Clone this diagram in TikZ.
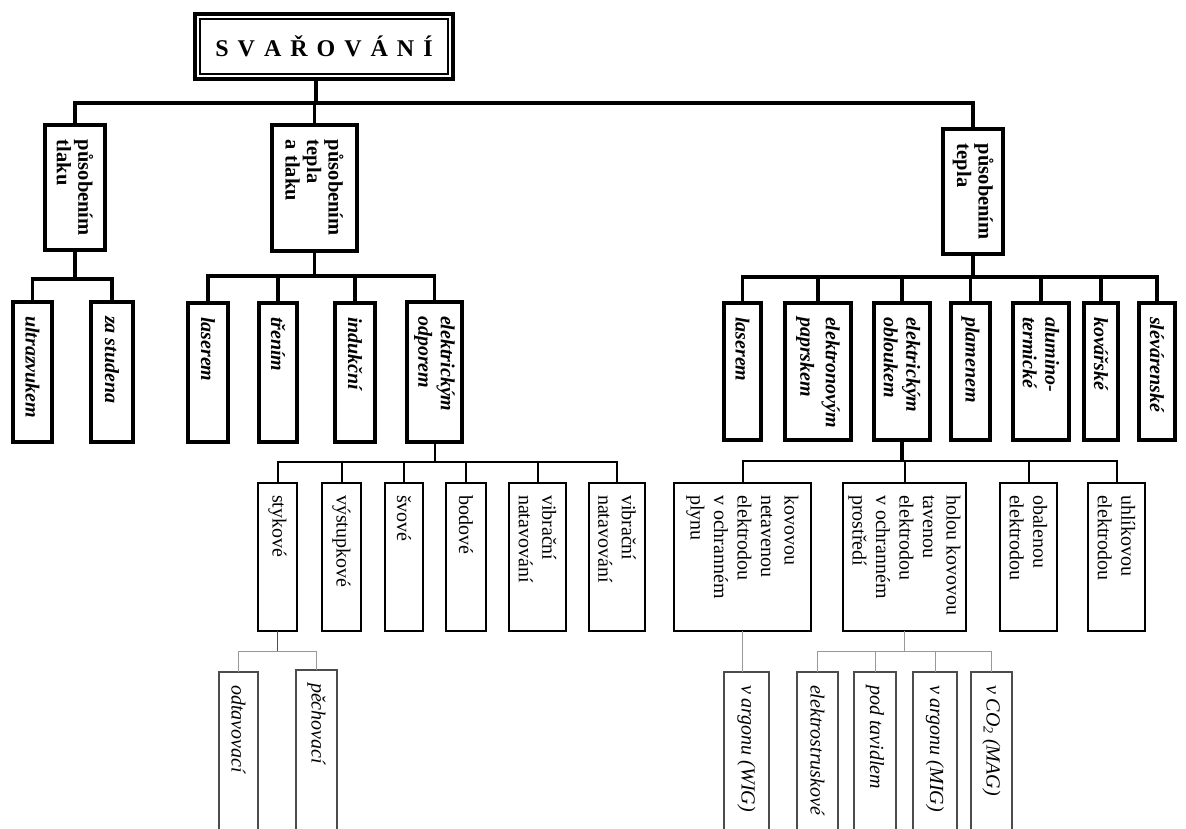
\documentclass[tikz,border=0pt]{standalone}
\usepackage{fontspec}
\setmainfont{Liberation Serif}
\newcommand{\bx}[6]{\node[#1, minimum width={#5-#3}, minimum height={#6-#4}] (#2) at ({(#3+#5)/2},{(#4+#6)/2}) {};}
\newcommand{\tx}[4]{\node[#1] (#2-lbl) at ([yshift=-#3pt]#2.north) {#4};}
\tikzset{
  lv1/.style={draw, line width=3.6pt, inner sep=0pt, outer sep=0pt},
  lv3/.style={draw, line width=2.6pt, inner sep=0pt, outer sep=0pt},
  lv4/.style={draw=none, inner sep=0pt, outer sep=0pt},
  c1/.style={line width=3.6pt},
  c3/.style={line width=2pt},
  c4/.style={line width=1pt, draw=black!40},
  c4box/.style={line width=1.1pt, draw=black!70},
  txt/.style={align=left, rotate=-90, anchor=west, inner sep=0pt, outer sep=0pt},
  t1/.style={txt, font=\fontsize{20.5}{21.5}\selectfont\bfseries},
  t2/.style={txt, font=\fontsize{20}{22.5}\selectfont\bfseries\itshape},
  t2w/.style={txt, font=\fontsize{20}{25.5}\selectfont\bfseries\itshape},
  t3/.style={txt, font=\fontsize{20}{23.5}\selectfont},
  t4/.style={txt, font=\fontsize{20}{23}\selectfont\itshape},
}
\begin{document}
\begin{tikzpicture}[x=1pt,y=-1pt]
\useasboundingbox (0,0) rectangle (1186,829);
% title
\bx{lv1}{ti}{195}{14}{453}{79}
\draw[line width=1.2pt] ([shift={(5pt,-5pt)}]ti.north west) rectangle ([shift={(-5pt,5pt)}]ti.south east);
\node[font=\fontsize{24}{26}\selectfont\bfseries, inner sep=0pt] (ti-lbl) at (ti.center) {S\kern9pt V\kern9pt A\kern9pt Ř\kern9pt O\kern9pt V\kern9pt Á\kern9pt N\kern9pt Í};
% level 1
\bx{lv1}{pt}{45}{125}{105}{250}
\bx{lv1}{ptt}{272}{125}{357}{251}
\bx{lv1}{pte}{943}{129}{1003}{254}
\tx{t1}{pt}{15}{působením\\tlaku}
\tx{t1}{ptt}{15}{působením\\tepla\\a tlaku}
\tx{t1}{pte}{15}{působením\\tepla}
\coordinate (bar0) at (0,103);
\coordinate (tis) at ([xshift=-8pt]ti.south);
\draw[c1] (pt.north) |- (pte.north |- bar0) -- (pte.north);
\draw[c1] (ptt.north) -- (ptt.north |- bar0);
\draw[c1] (tis) -- (tis |- bar0);
% level 2 left
\bx{lv1}{ul}{13}{302}{52}{442}
\bx{lv1}{zs}{91}{302}{133}{442}
\tx{t2}{ul}{14}{ultrazvukem}
\tx{t2}{zs}{14}{za studena}
\coordinate (bar1) at (0,279);
\draw[c1] (pt.south) -- (pt.south |- bar1);
\draw[c1] (ul.north) |- (zs.north |- bar1) -- (zs.north);
% level 2 middle
\bx{lv1}{la}{188}{303}{228}{442}
\bx{lv1}{tr}{259}{303}{297}{442}
\bx{lv1}{in}{335}{303}{375}{442}
\bx{lv1}{od}{407}{302}{462}{442}
\tx{t2}{la}{14}{laserem}
\tx{t2}{tr}{14}{třením}
\tx{t2}{in}{14}{indukční}
\tx{t2}{od}{14}{elektrickým\\odporem}
\coordinate (bar2) at (0,276);
\draw[c1] (ptt.south) -- (ptt.south |- bar2);
\draw[c1] (la.north) |- (od.north |- bar2) -- (od.north);
\foreach \n in {tr,in} \draw[c1] (\n.north) -- (\n.north |- bar2);
% level 2 right
\bx{lv1}{lb}{724}{303}{761}{440}
\bx{lv1}{ep}{785}{303}{851}{440}
\bx{lv1}{eo}{874}{303}{930}{440}
\bx{lv1}{pl}{951}{303}{990}{440}
\bx{lv1}{al}{1013}{303}{1069}{440}
\bx{lv1}{ko}{1084}{303}{1118}{440}
\bx{lv1}{sl}{1139}{303}{1175}{440}
\tx{t2}{lb}{14}{laserem}
\tx{t2w}{ep}{14}{elektronovým\\paprskem}
\tx{t2}{eo}{14}{elektrickým\\obloukem}
\tx{t2}{pl}{14}{plamenem}
\tx{t2}{al}{14}{alumino-\\termické}
\tx{t2}{ko}{14}{kovářské}
\tx{t2}{sl}{14}{slévárenské}
\coordinate (bar3) at (0,277);
\draw[c1] (pte.south) -- (pte.south |- bar3);
\draw[c1] (lb.north) |- (sl.north |- bar3) -- (sl.north);
\foreach \n in {ep,eo,pl,al,ko} \draw[c1] (\n.north) -- (\n.north |- bar3);
% level 3 left
\bx{lv3}{st}{258}{483}{297}{631}
\bx{lv3}{vy}{322}{483}{361}{631}
\bx{lv3}{sv}{385}{483}{423}{631}
\bx{lv3}{bo}{446}{483}{486}{631}
\bx{lv3}{va}{509}{483}{566}{631}
\bx{lv3}{vb}{589}{483}{645}{631}
\tx{t3}{st}{12}{stykové}
\tx{t3}{vy}{12}{výstupkové}
\tx{t3}{sv}{12}{švové}
\tx{t3}{bo}{12}{bodové}
\tx{t3}{va}{12}{vibrační\\natavování}
\tx{t3}{vb}{12}{vibrační\\natavování}
\coordinate (bar4) at (0,462);
\draw[c3] (od.south) -- (od.south |- bar4);
\draw[c3] (st.north) |- (vb.north |- bar4) -- (vb.north);
\foreach \n in {vy,sv,bo,va} \draw[c3] (\n.north) -- (\n.north |- bar4);
% level 3 right
\bx{lv3}{kn}{674}{483}{811}{631}
\bx{lv3}{ho}{843}{483}{966}{631}
\bx{lv3}{ob}{1000}{483}{1057}{631}
\bx{lv3}{uh}{1088}{483}{1145}{631}
\tx{t3}{kn}{12}{kovovou\\netavenou\\elektrodou\\v ochranném\\plynu}
\tx{t3}{ho}{12}{holou kovovou\\tavenou\\elektrodou\\v ochranném\\prostředí}
\tx{t3}{ob}{12}{obalenou\\elektrodou}
\tx{t3}{uh}{12}{uhlíkovou\\elektrodou}
\coordinate (bar5) at (0,461);
\draw[c1] (eo.south) -- ([yshift=1pt]eo.south |- bar5);
\draw[c3] (kn.north) |- (uh.north |- bar5) -- (uh.north);
\foreach \n in {ho,ob} \draw[c3] (\n.north) -- (\n.north |- bar5);
% level 4 left
\bx{lv4}{ot}{219}{672}{258}{835}
\bx{lv4}{pe}{296}{670}{337}{835}
\draw[c4box] (ot.south west) |- (ot.north east) -- (ot.south east);
\draw[c4box] (pe.south west) |- (pe.north east) -- (pe.south east);
\tx{t4}{ot}{13}{odtavovací}
\tx{t4}{pe}{13}{pěchovací}
\coordinate (bar6) at (0,651);
\draw[c4box] (st.south) -- (st.south |- bar6);
\draw[c4] (ot.north) |- (pe.north |- bar6) -- (pe.north);
% level 4 right
\bx{lv4}{wi}{724}{672}{769}{835}
\bx{lv4}{el}{797}{672}{838}{835}
\bx{lv4}{pd}{854}{672}{896}{835}
\bx{lv4}{mi}{913}{672}{957}{835}
\bx{lv4}{co}{971}{672}{1012}{835}
\foreach \n in {wi,el,pd,mi,co} \draw[c4box] (\n.south west) |- (\n.north east) -- (\n.south east);
\tx{t4}{wi}{13}{v argonu (WIG)}
\tx{t4}{el}{13}{elektrostruskové}
\tx{t4}{pd}{13}{pod tavidlem}
\tx{t4}{mi}{13}{v argonu (MIG)}
\tx{t4}{co}{13}{v CO\textsubscript{2} (MAG)}
\draw[c4] (kn.south) -- (kn.south |- wi.north);
\coordinate (bar7) at (0,651);
\draw[c4] (ho.south) -- (ho.south |- bar7);
\draw[c4] (el.north) |- (co.north |- bar7) -- (co.north);
\foreach \n in {pd,mi} \draw[c4] (\n.north) -- (\n.north |- bar7);
\end{tikzpicture}
\end{document}
